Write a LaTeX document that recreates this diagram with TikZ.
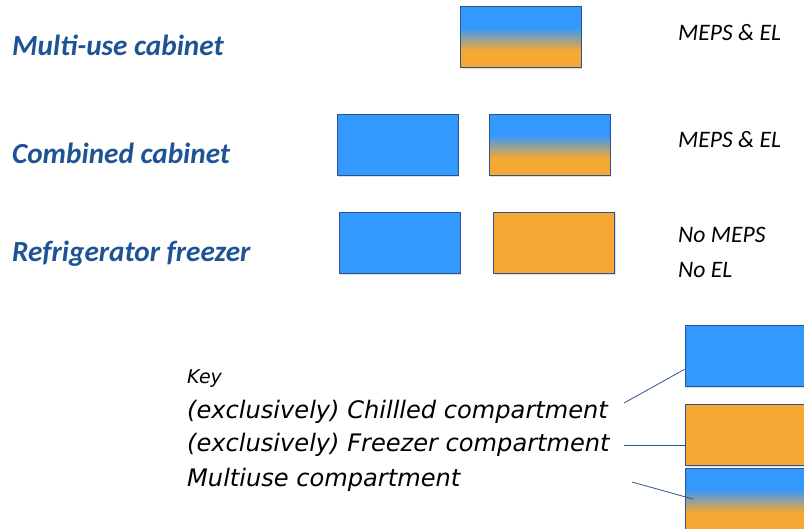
\documentclass[tikz,border=0pt]{standalone}
\usepackage{fontspec}
\setmainfont{Carlito}
\newfontfamily\keyfont{DejaVu Sans}
\usetikzlibrary{shadows}
\definecolor{bluc}{RGB}{51,153,255}
\definecolor{orgc}{RGB}{245,168,51}
\definecolor{bord}{RGB}{47,82,143}
\definecolor{headc}{RGB}{30,84,150}
\tikzset{
  box/.style={minimum width=121pt, minimum height=61pt, inner sep=0pt, draw=bord, line width=0.8pt,
    drop shadow={shadow xshift=1pt, shadow yshift=-1.5pt, opacity=0.25}},
  chillbox/.style={box, fill=bluc},
  frzbox/.style={box, fill=orgc},
  multibox/.style={box, fill=bluc, path picture={
      \fill[orgc] ([yshift=17pt]path picture bounding box.south west) rectangle (path picture bounding box.south east);
      \shade[top color=bluc, bottom color=orgc] ([yshift=-21pt]path picture bounding box.north west) rectangle ([yshift=17pt]path picture bounding box.south east);
    }},
  heading/.style={anchor=base west, inner sep=0pt, text=headc, font=\fontsize{29.2}{31}\selectfont\bfseries\itshape},
  note/.style={anchor=base west, inner sep=0pt, font=\fontsize{23.6}{25}\selectfont\itshape},
  keytxt/.style={anchor=base west, inner sep=0pt, font=\keyfont\fontsize{24.1}{26}\selectfont\itshape},
  conn/.style={draw=bord, line width=0.8pt},
}
\begin{document}
\begin{tikzpicture}[x=1pt, y=-1pt]
\useasboundingbox (0,0) rectangle (804,528);
% headings
\node[heading] (h1) at (12,55) {Multi-use cabinet};
\node[heading] (h2) at (12,163.3) {Combined cabinet};
\node[heading] (h3) at (12,261.7) {Refrigerator freezer};
% boxes
\node[multibox] (m1) at (520.5,36.8) {};
\node[chillbox] (c2a) at (397.5,144.5) {};
\node[multibox] (c2b) at (549.8,144.5) {};
\node[chillbox] (r3a) at (399.5,243) {};
\node[frzbox] (r3b) at (554.3,243) {};
% notes
\node[note] (n1) at (678,40) {MEPS \& EL};
\node[note] (n2) at (678,147.7) {MEPS \& EL};
\node[note] (n3) at (678,242.7) {No MEPS};
\node[note] (n4) at (678,277.7) {No EL};
% key
\node[keytxt, font=\keyfont\fontsize{19}{21}\selectfont\itshape] (k0) at (187,383) {Key};
\node[keytxt] (k1) at (187,418.3) {(exclusively) Chillled compartment};
\node[keytxt] (k2) at (187,451.7) {(exclusively) Freezer compartment};
\node[keytxt] (k3) at (187,486.5) {Multiuse compartment};
\node[chillbox] (kb) at (745.5,355.7) {};
\node[frzbox] (ko) at (745.5,434.7) {};
\node[multibox] (km) at (745.5,498.8) {};
% connectors
\coordinate (e1) at (624,403);
\coordinate (e2) at (624,445.3);
\coordinate (e3) at (632,482);
\draw[conn] (e1) -- ([yshift=-13.6pt]kb.west);
\draw[conn] (e2) -- ([yshift=-10.6pt]ko.west);
\draw[conn] (e3) -- ([xshift=8.3pt,yshift=-0.2pt]km.west);
\end{tikzpicture}
\end{document}
